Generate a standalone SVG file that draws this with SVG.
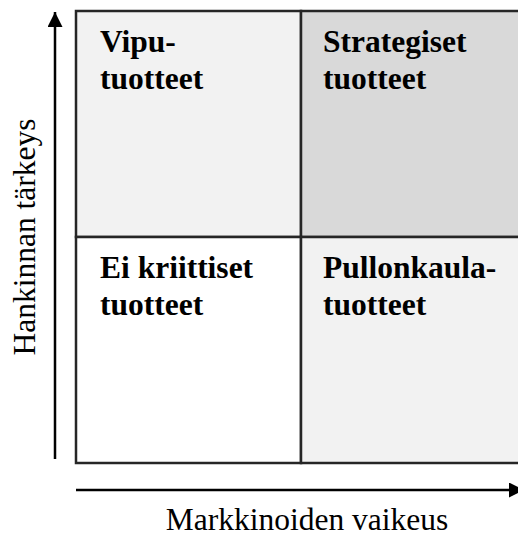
<svg xmlns="http://www.w3.org/2000/svg" width="518" height="538" viewBox="0 0 518 538">
<style>
.q{font-family:"Liberation Serif","Times New Roman",serif;font-weight:bold;font-size:31.5px;fill:#000}
.ax{font-family:"Liberation Serif","Times New Roman",serif;font-size:31.5px;fill:#000}
.cell{stroke:#262626;stroke-width:2.5}
.conn{stroke:#000;stroke-width:2.5;fill:none}
</style>
<defs>
<marker id="ah" viewBox="0 0 10 10" refX="10" refY="5" markerWidth="6" markerHeight="6" markerUnits="strokeWidth" orient="auto">
<path d="M0,0 L10,5 L0,10 Z" fill="#000"/>
</marker>
</defs>
<g id="q-vipu">
<rect class="cell" x="76" y="11" width="225" height="226" fill="#f2f2f2"/>
<text class="q" x="100" y="52">Vipu-</text>
<text class="q" x="100" y="89">tuotteet</text>
</g>
<g id="q-strategiset">
<rect class="cell" x="301" y="11" width="230" height="226" fill="#d9d9d9"/>
<text class="q" x="323" y="52">Strategiset</text>
<text class="q" x="323" y="89">tuotteet</text>
</g>
<g id="q-eikriittiset">
<rect class="cell" x="76" y="237" width="225" height="226" fill="#ffffff"/>
<text class="q" x="100" y="278">Ei kriittiset</text>
<text class="q" x="100" y="315">tuotteet</text>
</g>
<g id="q-pullonkaula">
<rect class="cell" x="301" y="237" width="230" height="226" fill="#f2f2f2"/>
<text class="q" x="323" y="278">Pullonkaula-</text>
<text class="q" x="323" y="315">tuotteet</text>
</g>
<g id="connectors">
<line class="conn" x1="55" y1="459" x2="55" y2="12" marker-end="url(#ah)"/>
<line class="conn" x1="76" y1="490" x2="524" y2="490" marker-end="url(#ah)"/>
</g>
<g id="labels">
<text class="ax" x="307" y="530" text-anchor="middle">Markkinoiden vaikeus</text>
<text class="ax" transform="translate(35,237) rotate(-90)" text-anchor="middle">Hankinnan tärkeys</text>
</g>
</svg>
